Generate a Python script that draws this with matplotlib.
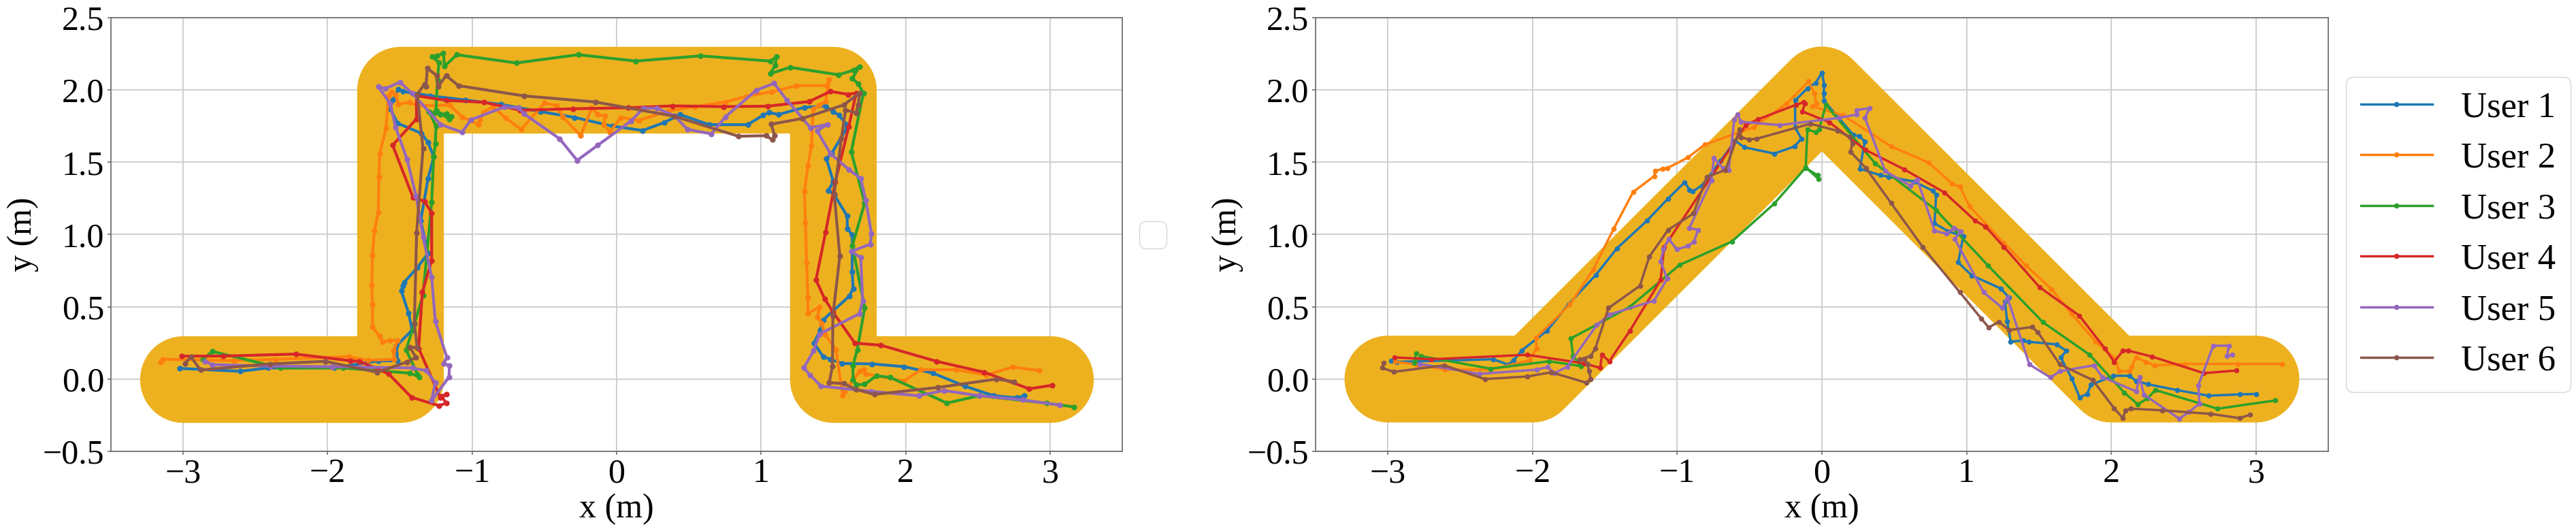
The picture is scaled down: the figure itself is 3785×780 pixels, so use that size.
import matplotlib
matplotlib.use("Agg")
import matplotlib.pyplot as plt
import numpy as np

# ---------------- data ----------------
SQ_PATH_X = [-3.0, -1.5, -1.5, 1.5, 1.5, 3.0]
SQ_PATH_Y = [0.0, 0.0, 2.0, 2.0, 0.0, 0.0]
TRI_PATH_X = [-3.0, -2.0, 0.0, 2.0, 3.0]
TRI_PATH_Y = [0.0, 0.0, 2.0, 0.0, 0.0]
CORRIDOR_WIDTH = 0.6

USER_LABELS = ["User 1", "User 2", "User 3", "User 4", "User 5", "User 6"]

U1_SQ = [(-3.025,0.074),(-2.607,0.054),(-2.413,0.077),(-1.955,0.077),(-1.65,0.126),(-1.516,0.126),(-1.524,0.23),(-1.415,0.339),(-1.44,0.456),(-1.49,0.61),(-1.48,0.645),(-1.47,0.67),(-1.38,0.77),(-1.305,0.87),(-1.356,1.095),(-1.305,1.39),(-1.265,1.537),(-1.305,1.636),(-1.35,1.70),(-1.516,1.77),(-1.567,1.87),(-1.55,1.93),(-1.51,2.005),(-1.48,1.99),(-1.29,1.96),(-1.044,1.93),(-0.80,1.90),(-0.526,1.85),(-0.29,1.81),(-0.03,1.75),(0.18,1.72),(0.33,1.775),(0.44,1.83),(0.64,1.76),(0.907,1.76),(1.013,1.825),(1.055,1.845),(1.12,1.83),(1.30,1.88),(1.447,1.888),(1.497,1.852),(1.54,1.825),(1.585,1.766),(1.598,1.744),(1.49,1.564),(1.452,1.524),(1.50,1.366),(1.467,1.306),(1.506,1.275),(1.595,1.13),(1.598,1.04),(1.632,0.996),(1.63,0.744),(1.637,0.627),(1.61,0.573),(1.43,0.41),(1.41,0.339),(1.366,0.249),(1.43,0.155),(1.48,0.137),(1.56,0.108),(1.767,0.105),(1.99,0.086),(2.19,0.041),(2.41,-0.049),(2.61,-0.115),(2.77,-0.13),(2.82,-0.115)]
U2_SQ = [(-3.155,0.119),(-3.14,0.137),(-2.646,0.128),(-2.36,0.137),(-1.857,0.155),(-1.72,0.13),(-1.54,0.137),(-1.545,0.195),(-1.516,0.267),(-1.567,0.267),(-1.62,0.258),(-1.64,0.294),(-1.69,0.362),(-1.69,0.519),(-1.695,0.649),(-1.69,0.856),(-1.676,1.027),(-1.65,1.153),(-1.645,1.398),(-1.64,1.559),(-1.596,1.735),(-1.58,1.957),(-1.558,1.987),(-1.53,1.97),(-1.51,1.903),(-1.434,1.915),(-1.38,1.89),(-1.156,1.896),(-1.07,1.814),(-0.955,1.76),(-0.946,1.794),(-0.92,1.846),(-0.855,1.885),(-0.77,1.807),(-0.66,1.728),(-0.50,1.909),(-0.416,1.893),(-0.374,1.814),(-0.248,1.684),(-0.172,1.877),(-0.13,1.83),(-0.08,1.82),(-0.089,1.76),(-0.046,1.71),(0.03,1.81),(0.156,1.79),(0.357,1.854),(0.542,1.885),(0.753,1.917),(0.896,1.956),(1.072,1.987),(1.245,2.03),(1.455,2.03),(1.47,2.07),(1.447,1.92),(1.405,1.897),(1.36,1.867),(1.349,1.613),(1.324,1.479),(1.30,1.297),(1.307,1.083),(1.315,0.804),(1.324,0.564),(1.324,0.456),(1.405,0.497),(1.39,0.429),(1.42,0.384),(1.44,0.312),(1.518,0.204),(1.565,-0.112),(1.578,-0.085),(1.683,0.054),(1.708,0.065),(1.725,0.036),(1.987,-0.013),(2.108,0.065),(2.349,0.065),(2.56,0.029),(2.742,0.083),(2.927,0.059)]
U3_SQ = [(-2.865,0.135),(-2.798,0.191),(-2.325,0.077),(-1.895,0.077),(-1.43,0.041),(-1.364,0.014),(-1.378,0.032),(-1.457,0.204),(-1.40,0.38),(-1.34,0.58),(-1.28,1.222),(-1.266,1.537),(-1.255,1.627),(-1.25,1.75),(-1.30,1.852),(-1.26,1.84),(-1.22,1.83),(-1.18,1.835),(-1.145,1.816),(-1.16,1.80),(-1.25,1.86),(-1.24,2.07),(-1.23,2.19),(-1.277,2.23),(-1.245,2.235),(-1.2,2.255),(-1.19,2.165),(-1.106,2.244),(-0.694,2.187),(-0.265,2.244),(0.134,2.20),(0.58,2.236),(1.064,2.20),(1.106,2.23),(1.097,2.17),(1.064,2.113),(1.2,2.157),(1.536,2.105),(1.64,2.137),(1.68,2.162),(1.632,2.08),(1.67,2.045),(1.708,1.978),(1.624,1.573),(1.717,1.218),(1.632,0.924),(1.717,0.492),(1.666,0.204),(1.636,0.095),(1.636,-0.004),(1.658,-0.04),(1.717,-0.036),(1.80,0.023),(1.894,0.011),(2.287,-0.166),(2.51,-0.115),(2.975,-0.166),(3.167,-0.193)]
U4_SQ = [(-3.008,0.159),(-2.725,0.159),(-2.22,0.173),(-1.84,0.126),(-1.78,0.123),(-1.578,0.036),(-1.42,-0.126),(-1.23,-0.184),(-1.18,-0.166),(-1.21,-0.12),(-1.18,-0.105),(-1.22,-0.13),(-1.37,0.213),(-1.345,0.60),(-1.28,0.82),(-1.28,1.15),(-1.33,1.23),(-1.41,1.258),(-1.55,1.618),(-1.385,1.80),(-1.385,1.96),(-1.18,1.928),(-0.917,1.915),(-0.668,1.86),(-0.302,1.87),(0.08,1.877),(0.388,1.89),(0.741,1.885),(1.047,1.888),(1.333,1.92),(1.48,1.99),(1.6,1.97),(1.658,1.978),(1.607,1.748),(1.514,1.366),(1.447,1.018),(1.38,0.686),(1.44,0.555),(1.497,0.465),(1.649,0.249),(1.83,0.234),(2.214,0.123),(2.546,0.047),(2.855,-0.067),(3.015,-0.043)]
U5_SQ = [(-2.848,0.123),(-2.80,0.10),(-2.4,0.09),(-1.97,0.086),(-1.415,0.077),(-1.32,0.059),(-1.255,-0.022),(-1.28,-0.148),(-1.16,0.014),(-1.157,0.095),(-1.198,0.108),(-1.175,0.15),(-1.255,0.40),(-1.28,0.708),(-1.34,0.984),(-1.388,1.267),(-1.45,1.519),(-1.53,1.744),(-1.567,1.906),(-1.65,2.023),(-1.6,2.01),(-1.5,2.054),(-1.415,1.978),(-1.22,1.762),(-1.07,1.708),(-1.008,1.794),(-0.778,1.882),(-0.677,1.877),(-0.64,1.835),(-0.394,1.662),(-0.273,1.513),(-0.13,1.618),(0.10,1.786),(0.186,1.874),(0.277,1.874),(0.40,1.822),(0.49,1.728),(0.657,1.696),(0.753,1.814),(0.966,1.998),(1.09,2.046),(1.177,1.932),(1.342,1.739),(1.46,1.762),(1.388,1.717),(1.48,1.56),(1.607,1.45),(1.69,1.387),(1.725,1.236),(1.764,1.005),(1.755,0.933),(1.624,0.883),(1.69,0.84),(1.703,0.542),(1.68,0.452),(1.405,0.312),(1.363,0.195),(1.295,0.077),(1.34,0.027),(1.415,-0.049),(1.76,-0.085),(2.09,-0.115),(2.264,-0.079),(2.51,-0.115),(2.81,-0.144),(3.066,-0.18)]
U6_SQ = [(-2.987,0.108),(-2.946,0.153),(-2.88,0.063),(-2.40,0.105),(-2.017,0.123),(-1.656,0.047),(-1.45,0.119),(-1.39,0.15),(-1.43,0.222),(-1.38,0.218),(-1.40,0.384),(-1.384,1.014),(-1.34,1.596),(-1.38,1.97),(-1.33,2.04),(-1.32,2.023),(-1.31,2.15),(-1.245,2.10),(-1.236,2.023),(-1.18,2.10),(-1.095,2.03),(-0.64,1.959),(-0.147,1.917),(0.40,1.818),(0.842,1.68),(1.034,1.684),(1.077,1.657),(1.094,1.684),(1.07,1.763),(1.286,1.803),(1.573,1.897),(1.68,1.978),(1.673,1.897),(1.657,1.843),(1.585,1.861),(1.556,1.668),(1.506,1.281),(1.545,0.852),(1.497,0.438),(1.494,0.09),(1.472,-0.025),(1.573,-0.031),(1.658,-0.072),(1.784,-0.106),(2.223,-0.058),(2.63,0.0),(2.749,-0.018)]

U1_TRI = [(-2.98,0.126),(-2.94,0.119),(-2.27,0.137),(-2.17,0.10),(-2.13,0.13),(-2.075,0.198),(-1.90,0.335),(-1.75,0.519),(-1.563,0.72),(-1.418,0.903),(-1.21,1.095),(-1.063,1.249),(-0.948,1.362),(-0.916,1.31),(-0.895,1.297),(-0.83,1.339),(-0.70,1.51),(-0.60,1.649),(-0.537,1.604),(-0.33,1.56),(-0.19,1.609),(-0.142,1.663),(-0.185,1.74),(-0.185,1.928),(-0.10,2.012),(-0.042,2.05),(0.0,2.12),(0.016,2.036),(0.012,1.978),(0.016,1.924),(0.216,1.69),(0.257,1.68),(0.297,1.645),(0.262,1.456),(0.403,1.41),(0.462,1.40),(0.637,1.366),(0.766,1.303),(0.79,1.276),(0.778,1.077),(0.872,1.023),(0.977,0.987),(0.942,0.807),(1.036,0.717),(1.235,0.627),(1.294,0.564),(1.265,0.537),(1.28,0.40),(1.305,0.258),(1.392,0.267),(1.43,0.258),(1.622,0.24),(1.69,0.195),(1.65,0.15),(1.727,0.005),(1.781,-0.126),(1.833,-0.103),(1.86,-0.04),(2.015,0.023),(2.126,0.023),(2.172,-0.013),(2.254,-0.036),(2.454,-0.076),(2.672,-0.115),(2.887,-0.106),(3.0,-0.103)]
U2_TRI = [(-2.95,0.12),(-2.8,0.1),(-2.605,0.065),(-2.29,0.065),(-2.02,0.13),(-1.973,0.213),(-1.977,0.285),(-1.743,0.515),(-1.58,0.759),(-1.44,1.038),(-1.305,1.294),(-1.158,1.405),(-1.154,1.438),(-1.10,1.456),(-1.067,1.46),(-0.926,1.533),(-0.81,1.622),(-0.47,1.744),(-0.244,1.906),(-0.092,2.06),(-0.054,1.978),(-0.038,1.906),(-0.066,1.888),(0.145,1.825),(0.48,1.609),(0.738,1.497),(0.90,1.351),(0.954,1.33),(1.02,1.195),(1.258,0.942),(1.41,0.786),(1.587,0.623),(1.727,0.45),(1.893,0.258),(2.025,0.144),(2.055,0.054),(2.126,0.054),(2.142,0.086),(2.172,0.15),(2.24,0.119),(2.30,0.095),(2.512,0.105),(2.876,0.105),(3.18,0.105)]
U3_TRI = [(-2.805,0.177),(-2.82,0.114),(-2.77,0.159),(-2.29,0.072),(-1.886,0.123),(-1.667,0.09),(-1.72,0.16),(-1.735,0.281),(-1.327,0.50),(-0.985,0.789),(-0.623,0.951),(-0.33,1.213),(-0.114,1.461),(-0.03,1.41),(-0.023,1.384),(-0.112,1.465),(-0.10,1.726),(-0.042,1.708),(-0.02,1.726),(0.028,1.897),(0.368,1.492),(0.79,1.168),(1.148,0.786),(1.528,0.393),(1.851,0.168),(2.09,-0.094),(2.184,-0.175),(2.25,-0.133),(2.306,-0.076),(2.735,-0.205),(3.133,-0.148)]
U4_TRI = [(-2.952,0.15),(-2.70,0.137),(-2.036,0.168),(-1.64,0.108),(-1.533,0.077),(-1.52,0.168),(-1.47,0.123),(-1.327,0.335),(-1.115,0.685),(-1.09,0.915),(-0.526,1.757),(-0.44,1.798),(-0.18,1.897),(-0.125,1.915),(-0.117,1.906),(-0.136,1.852),(0.052,1.776),(0.30,1.586),(0.567,1.452),(0.848,1.29),(1.06,1.095),(1.13,1.056),(1.258,0.915),(1.504,0.636),(1.78,0.438),(1.955,0.213),(2.02,0.119),(2.08,0.195),(2.115,0.198),(2.283,0.155),(2.64,0.041),(2.864,0.059)]
U5_TRI = [(-2.78,0.105),(-2.367,0.036),(-1.973,0.065),(-1.895,0.083),(-1.847,0.041),(-1.76,0.086),(-1.555,0.375),(-1.468,0.447),(-1.16,0.542),(-1.07,0.694),(-1.115,0.816),(-1.095,0.897),(-1.06,0.969),(-1.002,0.897),(-0.926,0.921),(-0.883,0.951),(-0.857,1.032),(-0.916,1.045),(-0.764,1.375),(-0.747,1.528),(-0.684,1.459),(-0.645,1.443),(-0.606,1.793),(-0.585,1.829),(-0.558,1.78),(-0.292,1.757),(0.117,1.807),(0.239,1.83),(0.239,1.861),(0.328,1.874),(0.298,1.807),(0.438,1.438),(0.61,1.339),(0.66,1.38),(0.778,1.027),(0.86,1.005),(0.914,1.045),(0.96,1.023),(0.919,0.969),(1.118,0.60),(1.247,0.492),(1.282,0.564),(1.434,0.101),(1.58,0.011),(1.645,0.054),(1.88,0.095),(1.938,0.014),(2.172,-0.085),(2.196,0.014),(2.226,-0.108),(2.47,-0.274),(2.536,-0.229),(2.61,-0.17),(2.602,-0.043),(2.705,0.231),(2.812,0.231),(2.80,0.159),(2.836,0.168)]
U6_TRI = [(-3.03,0.11),(-3.04,0.077),(-2.96,0.05),(-2.61,0.095),(-2.33,0.0),(-2.036,0.018),(-1.87,0.047),(-1.63,-0.025),(-1.598,0.0),(-1.61,0.054),(-1.62,0.105),(-1.64,0.137),(-1.674,0.137),(-1.598,0.159),(-1.566,0.213),(-1.475,0.492),(-1.258,0.645),(-1.193,0.847),(-1.063,1.032),(-0.887,1.146),(-0.796,1.398),(-0.666,1.447),(-0.569,1.726),(-0.558,1.672),(-0.504,1.658),(-0.45,1.663),(-0.08,1.766),(0.11,1.717),(0.192,1.676),(0.21,1.627),(0.197,1.573),(0.305,1.459),(0.478,1.218),(0.696,0.915),(0.954,0.60),(1.10,0.42),(1.153,0.357),(1.223,0.396),(1.293,0.339),(1.453,0.36),(1.493,0.324),(1.645,0.101),(1.872,-0.007),(2.02,-0.202),(2.08,-0.27),(2.10,-0.216),(2.137,-0.205),(2.35,-0.216),(2.688,-0.241),(2.887,-0.27),(2.958,-0.247)]

SQ_USERS = [U1_SQ, U2_SQ, U3_SQ, U4_SQ, U5_SQ, U6_SQ]
TRI_USERS = [U1_TRI, U2_TRI, U3_TRI, U4_TRI, U5_TRI, U6_TRI]

X_TICKS = [-3, -2, -1, 0, 1, 2, 3]
Y_TICKS = [-0.5, 0.0, 0.5, 1.0, 1.5, 2.0, 2.5]

# ---------------- style ----------------
plt.rcParams['font.family'] = ['Liberation Serif', 'DejaVu Serif']
FS = 36
LEG_FS = 38
GOLD = '#EDB120'
COLORS = ['#1f77b4', '#ff7f0e', '#2ca02c', '#d62728', '#9467bd', '#8c564b']

W, H, DPI = 3785, 780, 100
fig = plt.figure(figsize=(W / DPI, H / DPI), dpi=DPI)

ax_positions = [
    [163 / W, 1 - 663 / H, (1649 - 163) / W, (663 - 26) / H],
    [1933 / W, 1 - 663 / H, (3421 - 1933) / W, (663 - 26) / H],
]
XLIM = (-3.5, 3.5)
YLIM = (-0.5, 2.5)


def setup(ax):
    ax.set_xlim(*XLIM)
    ax.set_ylim(*YLIM)
    ax.set_xticks(X_TICKS)
    ax.set_yticks(Y_TICKS)
    ax.set_axisbelow(True)
    ax.grid(True, color='#cccccc', linewidth=1.3)
    for s in ax.spines.values():
        s.set_color('#707070')
        s.set_linewidth(1.3)
    ax.tick_params(labelsize=FS, colors='black', color='#707070', width=1.2)
    ax.set_xlabel('x (m)', fontsize=FS)
    ax.set_ylabel('y (m)', fontsize=FS)


def corridor(ax, px, py):
    pos = ax.get_position()
    ax_w_px = pos.width * W
    lw = CORRIDOR_WIDTH * ax_w_px / (XLIM[1] - XLIM[0]) * 72.0 / DPI
    ax.plot(px, py, color=GOLD, linewidth=lw, solid_capstyle='round',
            solid_joinstyle='round', zorder=1)


def users(ax, data, lw, ms):
    for i, pts in enumerate(data):
        arr = np.array(pts)
        ax.plot(arr[:, 0], arr[:, 1], '-o', color=COLORS[i], linewidth=lw,
                markersize=ms, markeredgewidth=0, label=USER_LABELS[i], zorder=3)


ax1 = fig.add_axes(ax_positions[0])
setup(ax1)
corridor(ax1, SQ_PATH_X, SQ_PATH_Y)
users(ax1, SQ_USERS, 3.0, 6)
ax1.legend(handles=[], loc='center left', bbox_to_anchor=(1.0, 0.5), fontsize=FS)

ax2 = fig.add_axes(ax_positions[1])
setup(ax2)
corridor(ax2, TRI_PATH_X, TRI_PATH_Y)
users(ax2, TRI_USERS, 2.5, 5.5)
ax2.legend(loc='center left', bbox_to_anchor=(1.0, 0.5), fontsize=LEG_FS)

fig.savefig('out.png', dpi=DPI)
